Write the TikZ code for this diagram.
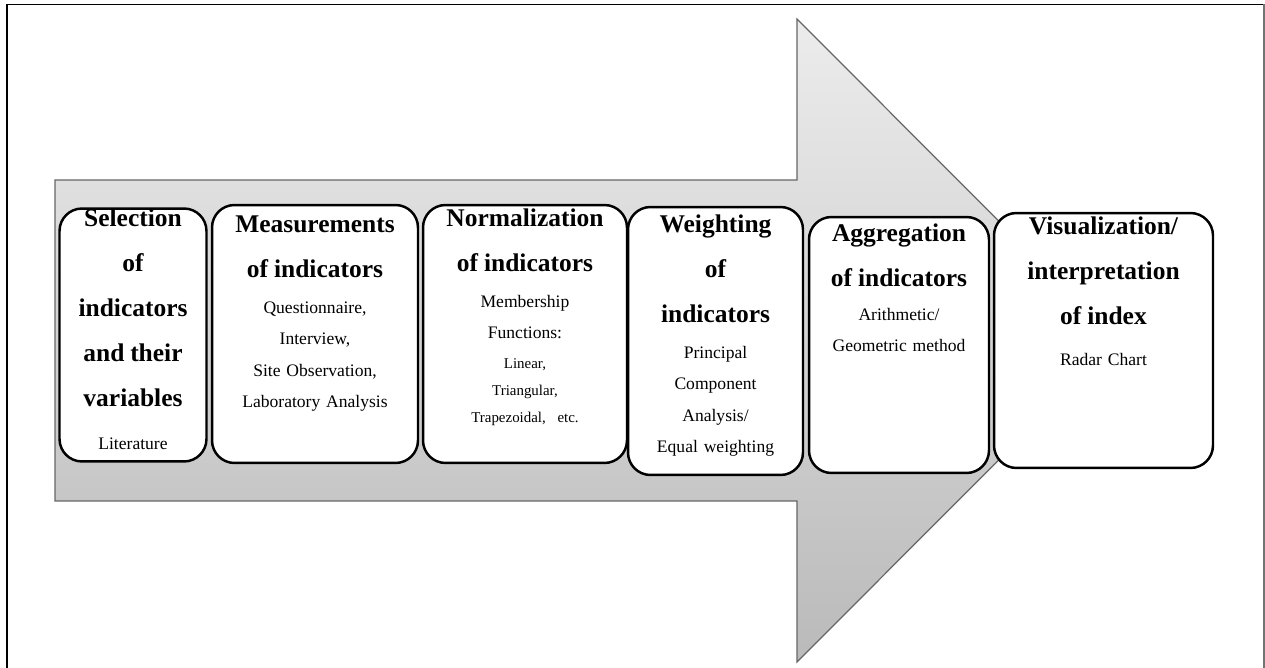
\documentclass[tikz,border=0pt]{standalone}
\usepackage{fontspec}
\setmainfont{Liberation Serif}
\usepackage{xcolor}
\usepackage{tikz}
\usetikzlibrary{positioning}
\definecolor{arrowtop}{HTML}{ECECEC}
\definecolor{arrowbottom}{HTML}{BABABA}
\newcommand{\ttl}{\fontsize{14.5}{25.6}\selectfont\bfseries}
\newcommand{\sub}{\fontsize{10}{18}\selectfont}
\newcommand{\subsmall}{\fontsize{8.5}{15.2}\selectfont}
\tikzstyle{stage} = [rectangle, draw=black, line width=1.4pt, rounded corners=0.45cm, fill=white]
\tikzstyle{stagetext} = [align=center, inner sep=0pt, anchor=base]
\tikzstyle{bigarrow} = [draw=black!60, line width=0.7pt, top color=arrowtop, bottom color=arrowbottom]
\begin{document}
\begin{tikzpicture}[x=0.02cm, y=-0.02cm]
        \useasboundingbox (0,0) rectangle (1265,668);
        % frame
        \draw [line width=1.1pt] (7,668) -- (7,4.5) -- (1264,4.5);
        \draw [black!55, line width=1pt] (1264,4.5) -- (1264,668);
        % big arrow behind the stages
        \draw [bigarrow] (55,180) -- (797,180) -- (797,19) -- (1118,340.5) -- (797,662) -- (797,501) -- (55,501) -- cycle;

        \node (selbox) [stage, minimum width=2.94cm, minimum height=5.06cm] at (133,335) {};
        \node (measbox) [stage, minimum width=4.12cm, minimum height=5.16cm] at (315,334) {};
        \node (normbox) [stage, minimum width=4.08cm, minimum height=5.16cm] at (525,334) {};
        \node (wghtbox) [stage, minimum width=3.5cm, minimum height=5.36cm] at (715.5,341) {};
        \node (aggrbox) [stage, minimum width=3.6cm, minimum height=5.12cm] at (899,345) {};
        \node (visbox) [stage, minimum width=4.38cm, minimum height=5.1cm] at (1103.5,340.5) {};

        \node (seltxt) [stagetext, text width=2.8cm] at (133,227)
            {{\ttl Selection\\of\\indicators\\and their\\variables\par}\vspace{6pt}{\sub Literature\par}};
        \node (meastxt) [stagetext, text width=3.9cm] at (315,233)
            {{\ttl Measurements\\of indicators\par}\vspace{2pt}{\sub Questionnaire,\\Interview,\\Site Observation,\\Laboratory Analysis\par}};
        \node (normtxt) [stagetext, text width=3.9cm] at (525,227)
            {{\ttl Normalization\\of indicators\par}\vspace{2pt}{\sub Membership\\Functions:\par}\vspace{2pt}{\subsmall Linear,\\Triangular,\\Trapezoidal,\ \ etc.\par}};
        \node (wghttxt) [stagetext, text width=3.3cm] at (715.5,233)
            {{\ttl Weighting\\of\\indicators\par}\vspace{2pt}{\sub Principal\\Component\\Analysis/\\Equal weighting\par}};
        \node (aggrtxt) [stagetext, text width=3.4cm] at (899,242)
            {{\ttl Aggregation\\of indicators\par}\vspace{1pt}{\sub Arithmetic/\\Geometric method\par}};
        \node (vistxt) [stagetext, text width=4.2cm] at (1103.5,235)
            {{\ttl Visualization/\\interpretation\\of index\par}\vspace{5pt}{\sub Radar Chart\par}};
    \end{tikzpicture}
\end{document}
